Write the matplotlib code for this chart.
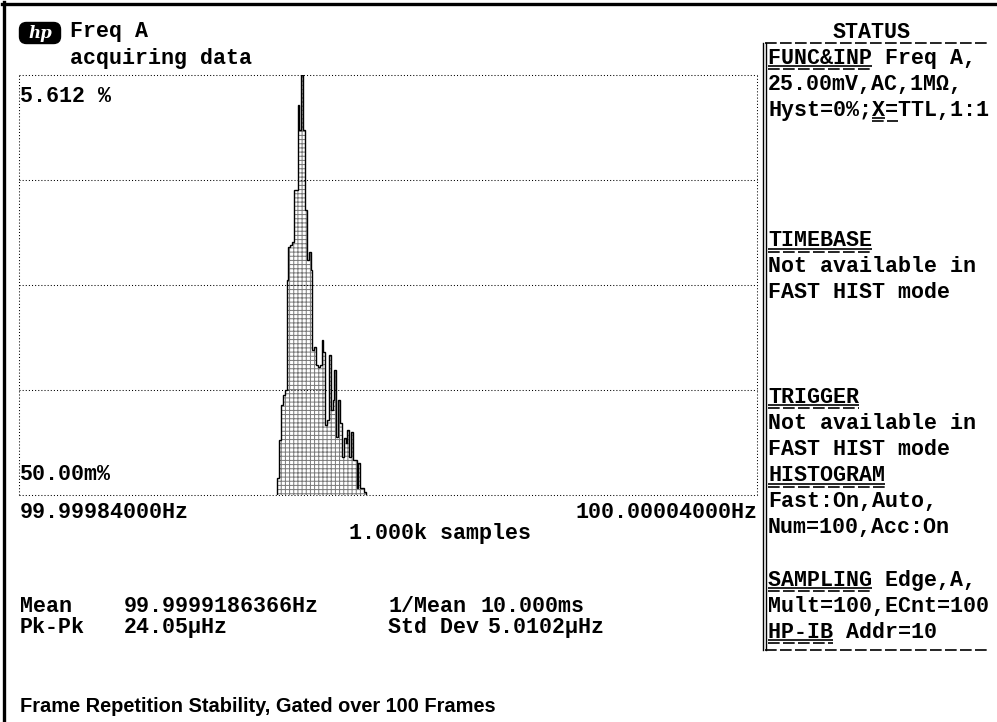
import matplotlib.pyplot as plt
import numpy as np
from matplotlib.patches import FancyBboxPatch

W, H = 997, 722
DPI = 100

# histogram (percent of samples per bin)
freq_lo = 99.99984000    # Hz, left edge of display
freq_hi = 100.00004000   # Hz, right edge of display
bin_start = 99.99991000  # Hz
bin_width = 0.5e-6       # Hz
pct_min = 0.05
pct_max = 5.612
hist_pct = [0.28, 0.78, 1.24, 1.37, 1.44, 2.90, 3.33, 3.36, 3.40, 4.09,
            4.09, 5.21, 4.88, 5.612, 4.88, 3.82, 3.16, 3.27, 3.03, 1.97,
            2.01, 1.77, 1.75, 1.77, 2.10, 1.94, 0.98, 1.04, 1.90, 1.18,
            1.31, 1.71, 0.82, 1.31, 1.00, 0.55, 0.80, 0.74, 0.91, 0.55,
            0.88, 0.51, 0.51, 0.14, 0.47, 0.14, 0.14, 0.09]

top_left = ["Freq A", "acquiring data"]
stats_left = [("Mean", "99.9999186366Hz"), ("Pk-Pk", "24.05µHz")]
stats_right = [("1/Mean", "10.000ms"), ("Std Dev", "5.0102µHz")]

# status panel: (row, heading, rest)
status = [
    (1, "FUNC&INP", " Freq A,"),
    (2, "", "25.00mV,AC,1MΩ,"),
    (3, "", "Hyst=0%;X=TTL,1:1"),
    (8, "TIMEBASE", ""),
    (9, "", "Not available in"),
    (10, "", "FAST HIST mode"),
    (14, "TRIGGER", ""),
    (15, "", "Not available in"),
    (16, "", "FAST HIST mode"),
    (17, "HISTOGRAM", ""),
    (18, "", "Fast:On,Auto,"),
    (19, "", "Num=100,Acc:On"),
    (21, "SAMPLING", " Edge,A,"),
    (22, "", "Mult=100,ECnt=100"),
    (23, "HP-IB", " Addr=10"),
]
caption = "Frame Repetition Stability, Gated over 100 Frames"

MONO = "Liberation Mono"
FS = 15.6
CW = 0.6 * FS * DPI / 72   # char width in px


def row_y(r):
    return 32 + 26.1 * r


fig = plt.figure(figsize=(W / DPI, H / DPI), dpi=DPI)
bg = fig.add_axes([0, 0, 1, 1])
bg.set_xlim(0, W)
bg.set_ylim(H, 0)
bg.axis("off")


def txt(x, y, s, ha="left"):
    bg.text(x, y, s, family=MONO, weight="bold", fontsize=FS,
            ha=ha, va="center", color="black")


def uline(x, y, n, dashed=False):
    x1 = x + n * CW
    if dashed:
        bg.plot([x, x1], [y, y], color="k", lw=1.2, ls=(0, (7, 2)),
                solid_capstyle="butt")
    else:
        bg.plot([x, x1], [y, y], color="k", lw=1.2, solid_capstyle="butt")


# outer frame (top and left only)
bg.plot([2, W], [3.5, 3.5], color="k", lw=2.4)
bg.plot([3.5, 3.5], [2, H], color="k", lw=2.4)

# hp logo
bg.add_patch(FancyBboxPatch((21, 24), 38, 18, boxstyle="round,pad=1.5,rounding_size=7",
                            fc="black", ec="black"))
bg.text(40, 33, "hp", color="white", fontsize=12, style="italic",
        weight="bold", ha="center", va="center", family="DejaVu Serif")

txt(70, row_y(0), top_left[0])
txt(70, row_y(1), top_left[1])

# histogram plot
ax = fig.add_axes([19 / W, 1 - 495 / H, (757 - 19) / W, (495 - 75) / H])
ax.set_xlim(freq_lo, freq_hi)
ax.set_ylim(pct_min, pct_max)
ax.patch.set_alpha(0)
for s in ax.spines.values():
    s.set_visible(False)
ax.set_xticks([])
ax.set_yticks([])
for yv in np.linspace(pct_min, pct_max, 5):
    ax.axhline(yv, color="k", lw=0.75, ls=(0, (1, 2)), clip_on=False)
for xv in (freq_lo, freq_hi):
    ax.axvline(xv, color="k", lw=0.75, ls=(0, (1, 2)), clip_on=False)

plt.rcParams["hatch.linewidth"] = 0.7
edges = bin_start + bin_width * np.arange(len(hist_pct) + 1)
ax.stairs(hist_pct, edges, baseline=pct_min, fill=True, facecolor="white",
          edgecolor="#7a7a7a", hatch="++++", lw=0)
ax.stairs(hist_pct, edges, baseline=pct_min, fill=False, color="black", lw=1.0)

txt(20, 97, "%.3f %%" % pct_max)
txt(20, 475, "%.2fm%%" % (pct_min * 1000))
txt(20, 512, "%.8fHz" % freq_lo)
txt(757, 512, "%.8fHz" % freq_hi, ha="right")
txt(349, 533, "1.000k samples")

for i, (k, v) in enumerate(stats_left):
    txt(20, row_y(22) + i * 21, k)
    txt(124, row_y(22) + i * 21, v)
for i, (k, v) in enumerate(stats_right):
    txt(388, row_y(22) + i * 21, k)
    txt(480 + i * 8, row_y(22) + i * 21, v)

# status panel
txt(872, row_y(0), "STATUS", ha="center")
bg.plot([765, 990], [43, 43], color="k", lw=1.2, ls=(0, (7, 2)))
bg.plot([763, 763], [43, 650], color="k", lw=1.0)
bg.plot([766, 766], [43, 650], color="k", lw=1.0)
bg.plot([765, 990], [650, 650], color="k", lw=1.2, ls=(0, (7, 2)))
X0 = 768
for r, head, rest in status:
    y = row_y(r)
    if head:
        txt(X0, y, head + rest)
        uline(X0, y + 8, len(head))
        uline(X0, y + 11, len(head), dashed=True)
    else:
        txt(X0, y, rest)
# underlined X in X=TTL
xs = X0 + 8 * CW
uline(xs, row_y(3) + 8, 1)
uline(xs, row_y(3) + 11, 2, dashed=True)

bg.text(20, 706, caption, family="Liberation Sans", weight="bold",
        fontsize=14.4, ha="left", va="center")

fig.savefig("out.png", dpi=DPI)
